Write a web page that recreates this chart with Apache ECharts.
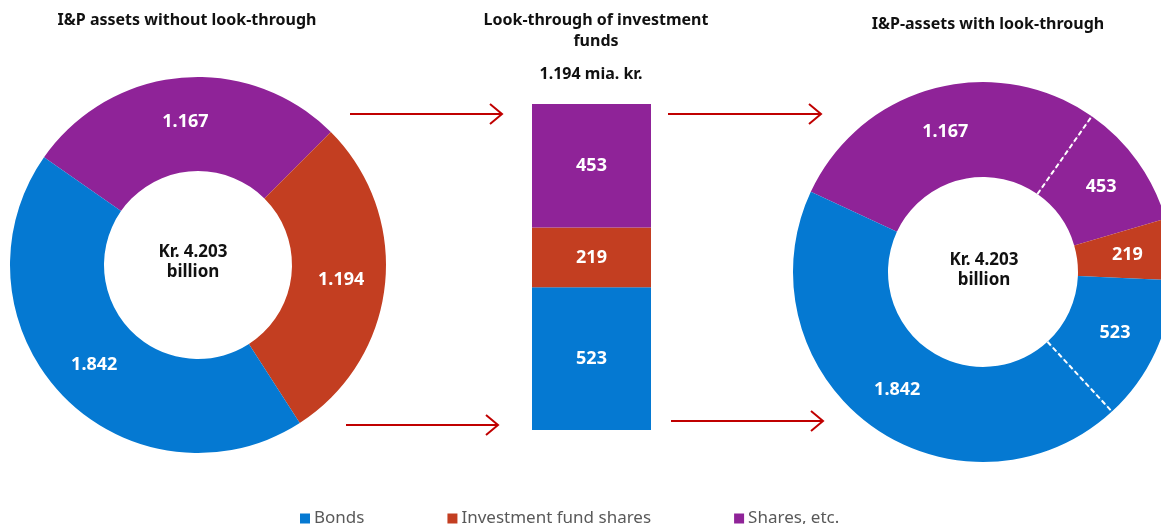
<!DOCTYPE html>
<html>
<head>
<meta charset="utf-8">
<script src="https://cdn.jsdelivr.net/npm/echarts@6/dist/echarts.min.js"></script>
<style>
  html, body { margin: 0; padding: 0; background: #fff; }
  #chart { width: 1161px; height: 524px; }
</style>
</head>
<body>
<div id="chart"></div>
<script>
// categories
const categories = ['Bonds', 'Investment fund shares', 'Shares, etc.']
const colors = ['#0579D2', '#C33E21', '#8F2398']

// I&P assets without look-through (bonds, fund shares, shares)
const withoutLookThrough = [1842, 1194, 1167]
// look-through of the investment funds (bonds, fund shares, shares)
const fundLookThrough = [523, 219, 453]

const fmt = v => String(v).replace(/\B(?=(\d{3})+(?!\d))/g, '.')
const total = withoutLookThrough.reduce((a, b) => a + b, 0)
const fundTotal = fundLookThrough.reduce((a, b) => a + b, 0)

const labelStyle = { show: true, position: 'inside', color: '#fff', fontWeight: 'bold', fontSize: 18, fontFamily: 'Noto Sans', formatter: p => fmt(p.value) }

// left donut, clockwise: shares, fund shares, bonds
const leftData = [2, 1, 0].map(i => ({
  name: categories[i], value: withoutLookThrough[i], itemStyle: { color: colors[i] }
}))

// right donut, clockwise: shares, looked-through shares, fund shares, looked-through bonds, bonds
const rightData = [
  { name: categories[2], value: withoutLookThrough[2], itemStyle: { color: colors[2] } },
  { name: categories[2], value: fundLookThrough[2], itemStyle: { color: colors[2] } },
  { name: categories[1], value: fundLookThrough[1], itemStyle: { color: colors[1] } },
  { name: categories[0], value: fundLookThrough[0], itemStyle: { color: colors[0] } },
  { name: categories[0], value: withoutLookThrough[0], itemStyle: { color: colors[0] } }
]
const rightTotal = rightData.reduce((a, d) => a + d.value, 0)
// dashed split between the two purple and the two blue slices
const cut1 = rightData[0].value
const cut2 = rightData[0].value + rightData[1].value + rightData[2].value + rightData[3].value

const chart = echarts.init(document.getElementById('chart'))

const titleBase = { textAlign: 'center', textVerticalAlign: 'middle', padding: 0 }
const titleFont = { fontFamily: 'Noto Sans', fontWeight: 'bold', fontSize: 16, color: '#111' }
const centerFont = { fontFamily: 'Noto Sans', fontWeight: 'bold', fontSize: 17, color: '#111', lineHeight: 20 }

function arrow(x1, x2, y) {
  return [
    { type: 'line', shape: { x1: x1, y1: y, x2: x2, y2: y }, style: { stroke: '#C00000', lineWidth: 2 } },
    { type: 'polyline', shape: { points: [[x2 - 12, y - 10], [x2, y], [x2 - 12, y + 10]] }, style: { stroke: '#C00000', lineWidth: 2, fill: null } }
  ]
}

const option = {
  animation: false,
  title: [
    Object.assign({ text: 'I&P assets without look-through', left: 187, top: 20, textStyle: titleFont }, titleBase),
    Object.assign({ text: 'Look-through of investment\nfunds', left: 596, top: 31, textStyle: Object.assign({ lineHeight: 21 }, titleFont) }, titleBase),
    Object.assign({ text: fmt(withoutLookThrough[1]) + ' mia. kr.', left: 591, top: 74, textStyle: titleFont }, titleBase),
    Object.assign({ text: 'I&P-assets with look-through', left: 988, top: 24, textStyle: titleFont }, titleBase),
    Object.assign({ text: 'Kr. ' + fmt(total) + '\nbillion', left: 193, top: 262, textStyle: centerFont }, titleBase),
    Object.assign({ text: 'Kr. ' + fmt(total) + '\nbillion', left: 984, top: 270, textStyle: centerFont }, titleBase)
  ],
  legend: {
    data: categories,
    left: 300,
    top: 510,
    padding: 0,
    icon: 'rect',
    itemWidth: 10,
    itemHeight: 10,
    itemGap: 83,
    selectedMode: false,
    textStyle: { color: '#595959', fontSize: 17, fontFamily: 'Noto Sans', padding: [0, 0, 0, -1] }
  },
  grid: { left: 532, width: 119, top: 104, height: 326 },
  xAxis: { type: 'category', data: ['funds'], show: false },
  yAxis: { type: 'value', min: 0, max: fundTotal, show: false },
  polar: { center: [983, 272], radius: [95, 190] },
  angleAxis: { type: 'value', min: 0, max: rightTotal, startAngle: 155, clockwise: true, show: false },
  radiusAxis: { type: 'value', min: 0, max: 1, show: false },
  graphic: [].concat(arrow(350, 502, 114), arrow(346, 498, 425), arrow(668, 821, 114), arrow(671, 823, 421)),
  series: [
    {
      type: 'pie',
      silent: true,
      center: [198, 265],
      radius: [94, 188],
      startAngle: 145,
      clockwise: true,
      avoidLabelOverlap: false,
      itemStyle: { borderWidth: 0 },
      label: labelStyle,
      labelLine: { show: false },
      data: leftData
    },
    {
      type: 'pie',
      silent: true,
      center: [983, 272],
      radius: [95, 190],
      startAngle: 155,
      clockwise: true,
      avoidLabelOverlap: false,
      itemStyle: { borderWidth: 0 },
      label: labelStyle,
      labelLine: { show: false },
      data: rightData
    },
    ...[0, 1, 2].map(i => ({
      name: categories[i],
      type: 'bar',
      stack: 'funds',
      silent: true,
      barWidth: '100%',
      itemStyle: { color: colors[i] },
      label: { show: true, position: 'inside', color: '#fff', fontWeight: 'bold', fontSize: 18, fontFamily: 'Noto Sans' },
      data: [fundLookThrough[i]]
    })),
    ...[cut1, cut2].map(c => ({
      type: 'line',
      coordinateSystem: 'polar',
      silent: true,
      symbol: 'none',
      z: 5,
      lineStyle: { color: '#fff', type: [5, 3], width: 2 },
      data: [[0, c], [1, c]]
    }))
  ]
}

chart.setOption(option)
</script>
</body>
</html>
